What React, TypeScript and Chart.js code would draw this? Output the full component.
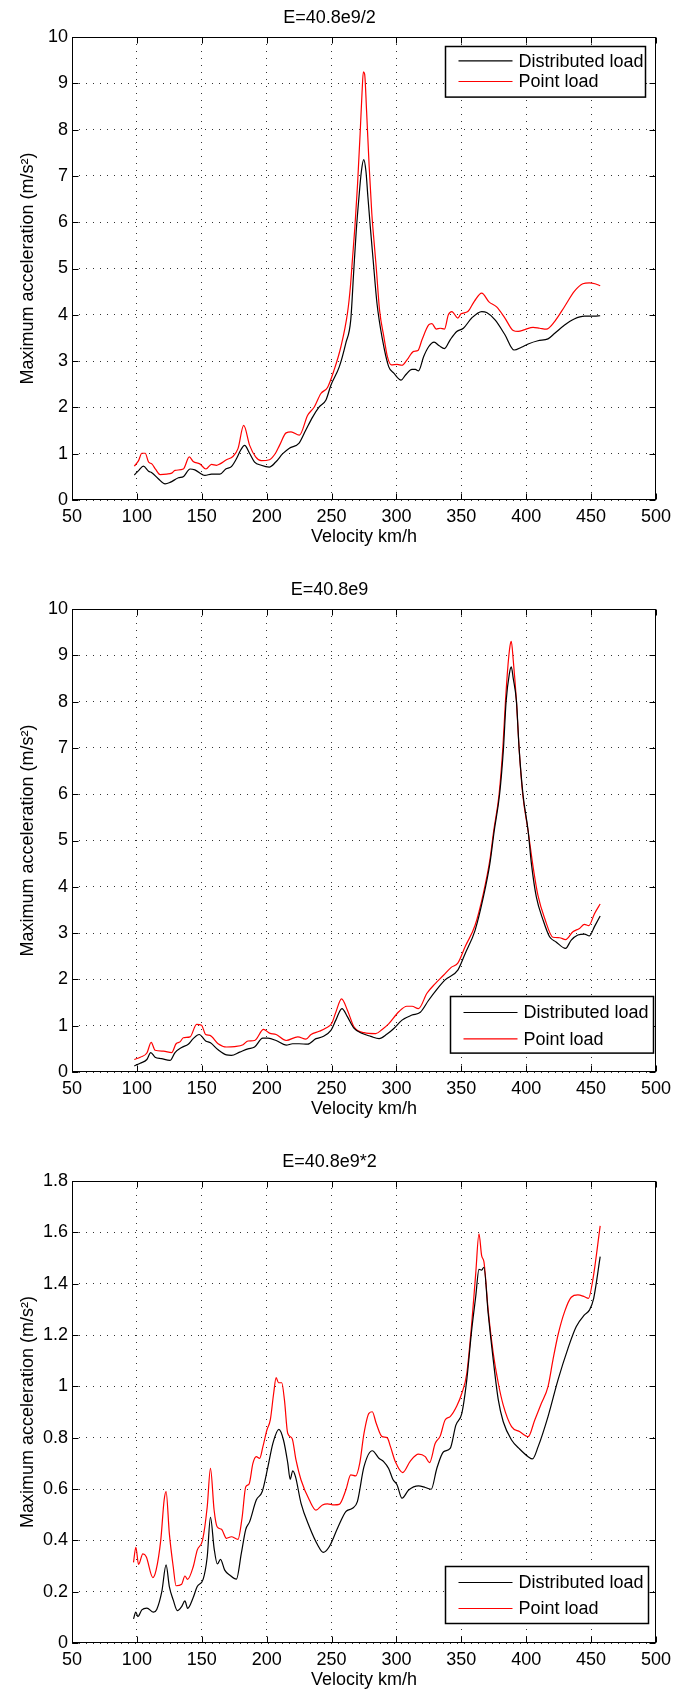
import React, { useEffect, useRef } from "react";
import { Chart, registerables } from "chart.js";

Chart.register(...registerables);

const FONT = "'Liberation Sans', Arial, Helvetica, sans-serif";
Chart.defaults.font.family = FONT;
Chart.defaults.font.size = 18;
Chart.defaults.color = "#000";

// ---------- data ----------
const seriesLabels = ["Distributed load", "Point load"];
const titles = ["E=40.8e9/2", "E=40.8e9", "E=40.8e9*2"];
const xTickValues = [50, 100, 150, 200, 250, 300, 350, 400, 450, 500];
const yTicksTall = [0, 1, 2, 3, 4, 5, 6, 7, 8, 9, 10];
const yTickLabelsShort = ["0", "0.2", "0.4", "0.6", "0.8", "1", "1.2", "1.4", "1.6", "1.8"];

// Plot 1: E=40.8e9/2
const p1DistV = [98, 101.5, 105, 109, 111.5, 116.5, 121.7, 125.5, 132, 136, 141, 144.7, 152.4, 157.5, 164, 168.5, 172.8, 176.7, 180, 183, 187, 190.7, 195.8, 202, 207, 212.4, 217.5, 225, 230, 235.4, 240.5, 245.7, 249.5, 256, 261, 264.8, 267, 269, 271, 273, 274.8, 276.5, 278, 280, 282, 285, 289, 294, 298, 303.6, 307, 312, 314.6, 317, 321, 324.8, 329, 333, 337, 341.4, 346.5, 351.6, 358, 365.7, 369.5, 376, 383.6, 390.7, 396.3, 401.5, 409, 416.8, 422, 429.6, 437, 445, 452.6, 457];
const p1DistA = [0.54, 0.64, 0.73, 0.62, 0.59, 0.46, 0.35, 0.38, 0.48, 0.51, 0.67, 0.65, 0.53, 0.56, 0.56, 0.67, 0.72, 0.89, 1.08, 1.18, 1.0, 0.82, 0.75, 0.71, 0.82, 1.0, 1.12, 1.23, 1.5, 1.79, 2.01, 2.16, 2.48, 2.88, 3.39, 3.89, 4.9, 5.8, 6.5, 7.1, 7.35, 7.1, 6.55, 5.85, 5.2, 4.25, 3.5, 2.88, 2.74, 2.59, 2.7, 2.82, 2.82, 2.79, 3.1, 3.31, 3.41, 3.33, 3.27, 3.46, 3.64, 3.71, 3.93, 4.07, 4.05, 3.89, 3.57, 3.24, 3.3, 3.37, 3.44, 3.48, 3.6, 3.78, 3.91, 3.97, 3.97, 3.98];
const p1PointV = [98, 101.3, 103.8, 106.4, 109, 111.5, 114.5, 117.9, 123, 126.8, 129.4, 135.8, 140.4, 143.4, 148.5, 153.2, 157.5, 161.3, 164, 169, 174, 177.9, 182.3, 186.9, 191.5, 195.8, 202.2, 206.8, 209.9, 215, 218.8, 225.2, 231.6, 236.7, 241.8, 246.9, 252, 257.2, 262.3, 264.5, 266.1, 268, 270, 272, 273.5, 274.5, 275.5, 277, 279, 281, 283, 284.5, 287, 290.3, 293, 296, 300.5, 304.3, 308, 313.3, 316.6, 319.7, 324.8, 327.3, 330.7, 333.7, 337, 340, 342.7, 347.3, 349.8, 355, 360, 365.7, 371.3, 377.2, 383.6, 390, 393.8, 398.9, 405.3, 410.4, 415.5, 422, 429.6, 437.2, 443.6, 448.7, 453, 457];
const p1PointA = [0.73, 0.85, 1.01, 1.01, 0.82, 0.78, 0.66, 0.55, 0.56, 0.58, 0.64, 0.67, 0.93, 0.83, 0.78, 0.67, 0.77, 0.75, 0.78, 0.87, 0.94, 1.11, 1.61, 1.18, 0.93, 0.85, 0.87, 1.01, 1.18, 1.45, 1.47, 1.4, 1.83, 2.01, 2.3, 2.43, 2.81, 3.31, 4.04, 4.6, 5.2, 5.9, 6.8, 7.9, 8.8, 9.25, 9.2, 8.4, 7.2, 6.2, 5.5, 5.0, 4.1, 3.53, 3.1, 2.92, 2.93, 2.91, 3.02, 3.21, 3.23, 3.46, 3.78, 3.81, 3.69, 3.71, 3.69, 4.0, 4.07, 3.93, 4.02, 4.07, 4.29, 4.47, 4.28, 4.17, 3.93, 3.66, 3.64, 3.68, 3.73, 3.71, 3.69, 3.86, 4.18, 4.51, 4.67, 4.69, 4.67, 4.63];

// Plot 2: E=40.8e9
const p2DistV = [98, 102.6, 107.7, 110.7, 114, 119, 125.5, 129.4, 134.5, 139.6, 143.4, 148, 153, 156.7, 162.6, 169, 172.8, 179.2, 185.6, 190.7, 197, 201, 207.3, 215, 220, 225, 231.6, 238, 243, 249.5, 253.3, 258, 262.3, 267.4, 273.8, 280.2, 286.6, 292.8, 298, 304.3, 312, 318.4, 324.8, 331, 337.5, 347.3, 353, 360.6, 367, 372, 375.4, 379.5, 382.5, 384.5, 387, 388.5, 390, 392.5, 394.5, 397.5, 401.5, 404, 407.8, 413, 418, 423, 430.3, 434.7, 439.8, 444.9, 448.7, 452.6, 457];
const p2DistA = [0.13, 0.19, 0.27, 0.42, 0.32, 0.29, 0.25, 0.42, 0.53, 0.6, 0.72, 0.81, 0.67, 0.63, 0.48, 0.37, 0.36, 0.43, 0.5, 0.54, 0.73, 0.73, 0.68, 0.58, 0.61, 0.61, 0.6, 0.72, 0.76, 0.9, 1.12, 1.37, 1.19, 0.94, 0.83, 0.77, 0.72, 0.82, 0.94, 1.12, 1.23, 1.29, 1.55, 1.78, 1.99, 2.2, 2.56, 3.06, 3.78, 4.5, 5.22, 6.0, 7.0, 8.0, 8.6, 8.75, 8.5, 8.0, 7.0, 6.0, 5.2, 4.5, 3.78, 3.28, 2.92, 2.81, 2.67, 2.85, 2.96, 2.98, 2.94, 3.14, 3.37];
const p2PointV = [98, 102.6, 107.7, 111, 114, 120.4, 126.8, 130.2, 133.2, 135.8, 141, 146, 149.8, 153, 156.3, 162.6, 169, 175.4, 181.8, 185.6, 190.7, 197.6, 202.2, 207.3, 215, 224, 230.3, 234.2, 240.5, 245.7, 250.3, 253.3, 257.7, 262.3, 267.4, 275, 284, 289, 294, 301.8, 308, 312, 317, 323.5, 329.9, 336.3, 342.2, 347.3, 353, 360.6, 367, 372, 374.9, 379.1, 382, 384, 386, 387.5, 388.5, 390, 392.5, 394.5, 397.3, 401.5, 405.3, 409, 414.2, 420.6, 425.7, 430.3, 436, 441, 444.9, 448.2, 452.6, 457];
const p2PointA = [0.27, 0.32, 0.41, 0.64, 0.47, 0.45, 0.42, 0.61, 0.65, 0.74, 0.76, 1.03, 1.01, 0.81, 0.79, 0.61, 0.54, 0.55, 0.59, 0.67, 0.68, 0.92, 0.84, 0.81, 0.68, 0.76, 0.71, 0.81, 0.88, 0.95, 1.06, 1.29, 1.58, 1.33, 0.97, 0.85, 0.83, 0.92, 1.04, 1.3, 1.42, 1.42, 1.37, 1.7, 1.91, 2.09, 2.26, 2.35, 2.71, 3.17, 3.86, 4.58, 5.2, 6.0, 7.0, 8.0, 8.8, 9.2, 9.3, 8.9, 8.0, 7.0, 6.0, 5.2, 4.43, 3.82, 3.32, 2.91, 2.9, 2.86, 3.03, 3.1, 3.19, 3.16, 3.42, 3.63];

// Plot 3: E=40.8e9*2
const p3DistV = [97.4, 99.2, 100.8, 103.8, 107.7, 112.8, 115.3, 119.2, 122.5, 125, 128, 131.2, 134.5, 137, 139.1, 143.4, 146.5, 151.1, 154.2, 156.7, 159.5, 162, 164.4, 167.7, 171.5, 176.7, 180.5, 183.9, 186.9, 192, 196.6, 201, 204.8, 209.4, 213, 216.3, 218.1, 220.1, 222.2, 226.5, 232.9, 239.3, 243.6, 248.2, 254.6, 261, 266.1, 269.9, 275, 281.4, 286.5, 290.3, 294, 297.2, 300.5, 304.3, 309.4, 317, 322.2, 326.8, 331.1, 336.3, 341.4, 345.8, 350.4, 354.2, 358, 361.1, 363.6, 365.7, 367.4, 370.7, 374.6, 378.5, 382.3, 388.7, 395.1, 401.5, 404.8, 409.2, 416.8, 424.5, 432.2, 438.5, 444.9, 448.7, 452, 457];
const p3DistA = [0.094, 0.12, 0.103, 0.129, 0.136, 0.12, 0.131, 0.2, 0.304, 0.22, 0.168, 0.126, 0.142, 0.164, 0.135, 0.177, 0.22, 0.249, 0.336, 0.49, 0.369, 0.308, 0.326, 0.284, 0.265, 0.249, 0.35, 0.443, 0.473, 0.557, 0.59, 0.687, 0.778, 0.832, 0.79, 0.7, 0.638, 0.671, 0.648, 0.544, 0.453, 0.382, 0.353, 0.375, 0.447, 0.512, 0.525, 0.551, 0.687, 0.749, 0.72, 0.706, 0.68, 0.638, 0.616, 0.564, 0.596, 0.612, 0.606, 0.599, 0.68, 0.745, 0.758, 0.849, 0.895, 1.025, 1.22, 1.35, 1.456, 1.453, 1.464, 1.284, 1.103, 0.947, 0.862, 0.791, 0.755, 0.726, 0.717, 0.765, 0.882, 1.025, 1.148, 1.232, 1.278, 1.297, 1.343, 1.505];
const p3PointV = [97.4, 99.2, 101.3, 104.6, 107.2, 112.3, 114.8, 118.4, 121, 122.5, 125, 128, 130.2, 134.5, 137, 139.1, 143.4, 146.5, 150.6, 154.2, 156.7, 159.5, 161.8, 165.2, 169, 172.8, 177.9, 181, 183.9, 186.4, 189.4, 192, 194.6, 197.1, 200.2, 202.8, 205.4, 207.3, 209.1, 211.6, 213.7, 216.2, 219.6, 222.6, 226.5, 232.9, 238, 243, 246.9, 252, 255.9, 261, 264.8, 268.6, 271.7, 275, 278.8, 281.4, 284.4, 289, 292.8, 295.4, 299.2, 304.8, 310.7, 317, 322.2, 325.5, 329.9, 333.7, 337.5, 341.4, 346.5, 350.4, 354.2, 358, 361.1, 363.6, 365.7, 367.4, 370.7, 374.6, 378.5, 382.3, 388.7, 395.1, 401.5, 406.6, 411.7, 416.8, 420.6, 424.5, 429.6, 434.7, 439.8, 444.9, 448, 451.3, 457];
const p3PointA = [0.314, 0.373, 0.306, 0.347, 0.336, 0.255, 0.284, 0.401, 0.557, 0.59, 0.427, 0.297, 0.223, 0.229, 0.261, 0.248, 0.297, 0.362, 0.401, 0.531, 0.68, 0.518, 0.453, 0.443, 0.408, 0.414, 0.404, 0.486, 0.609, 0.619, 0.7, 0.726, 0.719, 0.765, 0.83, 0.869, 0.973, 1.034, 1.014, 1.014, 0.947, 0.817, 0.797, 0.713, 0.635, 0.557, 0.518, 0.538, 0.542, 0.538, 0.54, 0.596, 0.655, 0.651, 0.7, 0.817, 0.895, 0.901, 0.856, 0.804, 0.8, 0.765, 0.706, 0.664, 0.709, 0.736, 0.726, 0.703, 0.778, 0.806, 0.869, 0.882, 0.923, 0.973, 1.05, 1.245, 1.44, 1.594, 1.508, 1.486, 1.297, 1.129, 1.012, 0.927, 0.843, 0.823, 0.804, 0.869, 0.934, 0.999, 1.103, 1.2, 1.291, 1.347, 1.356, 1.349, 1.343, 1.414, 1.625];

// ---------- plugins ----------
const framePlugin = {
  id: "matlabFrame",
  afterDraw(chart: any) {
    const { ctx, chartArea, scales } = chart;
    const l = Math.round(chartArea.left) + 0.5;
    const r = Math.round(chartArea.right) - 0.5;
    const t = Math.round(chartArea.top) + 0.5;
    const b = Math.round(chartArea.bottom) - 0.5;
    const tl = 6;
    ctx.save();
    ctx.strokeStyle = "#000";
    ctx.lineWidth = 1;
    ctx.beginPath();
    scales.x.ticks.forEach((tk: any) => {
      const px = Math.round(scales.x.getPixelForValue(tk.value)) + 0.5;
      ctx.moveTo(px, b);
      ctx.lineTo(px, b - tl);
      ctx.moveTo(px, t);
      ctx.lineTo(px, t + tl);
    });
    scales.y.ticks.forEach((tk: any) => {
      const py = Math.round(scales.y.getPixelForValue(tk.value)) + 0.5;
      ctx.moveTo(l, py);
      ctx.lineTo(l + tl, py);
      ctx.moveTo(r, py);
      ctx.lineTo(r - tl, py);
    });
    ctx.stroke();
    ctx.strokeRect(l, t, r - l, b - t);
    ctx.restore();
  },
};

const boxLegendPlugin = {
  id: "boxLegend",
  afterDraw(chart: any, _args: any, o: any) {
    const { ctx, chartArea } = chart;
    const x0 = Math.round(chartArea.right - o.right - o.width) + 0.5;
    const y0 =
      Math.round(o.top != null ? chartArea.top + o.top : chartArea.bottom - o.bottom - o.height) + 0.5;
    ctx.save();
    ctx.fillStyle = "#fff";
    ctx.fillRect(x0, y0, o.width, o.height);
    ctx.strokeStyle = "#000";
    ctx.lineWidth = 1.5;
    ctx.strokeRect(x0, y0, o.width, o.height);
    chart.data.datasets.forEach((ds: any, i: number) => {
      const y = y0 + o.row1 + i * o.gap;
      ctx.strokeStyle = ds.borderColor;
      ctx.lineWidth = 1.2;
      ctx.beginPath();
      ctx.moveTo(x0 + 13, y);
      ctx.lineTo(x0 + 67, y);
      ctx.stroke();
      ctx.fillStyle = "#000";
      ctx.font = "18px " + FONT;
      ctx.textAlign = "left";
      ctx.textBaseline = "middle";
      ctx.fillText(ds.label, x0 + 73, y + 1);
    });
    ctx.restore();
  },
};

const toPts = (xs: number[], ys: number[]) => xs.map((x, i) => ({ x, y: ys[i] }));

type PlotSpec = {
  top: number;
  height: number;
  padBottom: number;
  titlePadTop: number;
  title: string;
  distV: number[];
  distA: number[];
  pointV: number[];
  pointA: number[];
  yMax: number;
  yStep: number;
  yLabel: (v: number) => string;
  legend: any;
};

const GRID_COLOR = "rgba(0,0,0,0.8)";

function buildConfig(s: PlotSpec): any {
  const lineStyle = {
    borderWidth: 1.2,
    pointRadius: 0,
    cubicInterpolationMode: "monotone",
    fill: false,
  };
  return {
    type: "line",
    data: {
      datasets: [
        {
          label: seriesLabels[0],
          data: toPts(s.distV, s.distA),
          borderColor: "#000000",
          ...lineStyle,
        },
        {
          label: seriesLabels[1],
          data: toPts(s.pointV, s.pointA),
          borderColor: "#ff0000",
          ...lineStyle,
        },
      ],
    },
    options: {
      responsive: false,
      animation: false,
      events: [],
      layout: { padding: { left: 0, right: 18, top: 0, bottom: s.padBottom } },
      plugins: {
        legend: { display: false },
        tooltip: { enabled: false },
        title: {
          display: true,
          text: s.title,
          color: "#000",
          font: { size: 18, family: FONT, weight: "normal" },
          padding: { top: s.titlePadTop, bottom: 8.4 },
        },
        boxLegend: s.legend,
      },
      scales: {
        x: {
          type: "linear",
          min: xTickValues[0],
          max: xTickValues[xTickValues.length - 1],
          afterBuildTicks: (sc: any) => {
            sc.ticks = xTickValues.map((v) => ({ value: v }));
          },
          ticks: {
            autoSkip: false,
            maxRotation: 0,
            padding: 6,
            color: "#000",
            font: { size: 18, family: FONT },
            callback: (v: number) => String(v),
          },
          grid: { color: GRID_COLOR, lineWidth: 1, drawTicks: false },
          border: { display: false, dash: [1, 6] },
          title: {
            display: true,
            text: "Velocity km/h",
            color: "#000",
            font: { size: 18, family: FONT },
            padding: { top: 0, bottom: 2.2 },
          },
          afterFit: (sc: any) => {
            sc.height = 50;
          },
        },
        y: {
          type: "linear",
          min: 0,
          max: s.yMax,
          ticks: {
            stepSize: s.yStep,
            autoSkip: false,
            padding: 4,
            color: "#000",
            font: { size: 18, family: FONT },
            callback: (v: number) => s.yLabel(v),
          },
          grid: { color: GRID_COLOR, lineWidth: 1, drawTicks: false },
          border: { display: false, dash: [1, 6] },
          title: {
            display: true,
            text: "Maximum acceleration (m/s²)",
            color: "#000",
            font: { size: 18, family: FONT },
            padding: { top: 17.5, bottom: 0 },
          },
          afterFit: (sc: any) => {
            sc.width = 72;
          },
        },
      },
    },
    plugins: [framePlugin, boxLegendPlugin],
  };
}

const tallLabel = (v: number) => {
  const idx = yTicksTall.indexOf(Math.round(v));
  return idx >= 0 ? String(yTicksTall[idx]) : "";
};
const shortLabel = (v: number) => {
  const idx = Math.round(v / 0.2);
  return yTickLabelsShort[idx] ?? "";
};

const plots: PlotSpec[] = [
  {
    top: 0,
    height: 572,
    padBottom: 22,
    titlePadTop: 7,
    title: titles[0],
    distV: p1DistV,
    distA: p1DistA,
    pointV: p1PointV,
    pointA: p1PointA,
    yMax: 10,
    yStep: 1,
    yLabel: tallLabel,
    legend: { right: 10.8, top: 9.4, width: 200, height: 50.6, row1: 14.3, gap: 20.7 },
  },
  {
    top: 572,
    height: 572,
    padBottom: 22,
    titlePadTop: 7,
    title: titles[1],
    distV: p2DistV,
    distA: p2DistA,
    pointV: p2PointV,
    pointA: p2PointA,
    yMax: 10,
    yStep: 1,
    yLabel: tallLabel,
    legend: { right: 3, bottom: 19, width: 203, height: 56.6, row1: 16, gap: 26.3 },
  },
  {
    top: 1144,
    height: 549,
    padBottom: 0,
    titlePadTop: 7,
    title: titles[2],
    distV: p3DistV,
    distA: p3DistA,
    pointV: p3PointV,
    pointA: p3PointA,
    yMax: 1.8,
    yStep: 0.2,
    yLabel: shortLabel,
    legend: { right: 8.2, bottom: 20, width: 203, height: 57, row1: 16, gap: 26 },
  },
];

function Plot({ spec }: { spec: PlotSpec }) {
  const ref = useRef<HTMLCanvasElement | null>(null);
  useEffect(() => {
    if (!ref.current) return;
    const chart = new Chart(ref.current, buildConfig(spec));
    return () => chart.destroy();
  }, [spec]);
  return (
    <canvas
      ref={ref}
      width={677}
      height={spec.height}
      style={{ position: "absolute", left: 0, top: spec.top, width: 677, height: spec.height }}
    />
  );
}

export default function App() {
  return (
    <div
      style={{
        position: "absolute",
        left: 0,
        top: 0,
        width: 677,
        height: 1693,
        background: "#fff",
        overflow: "hidden",
      }}
    >
      {plots.map((p, i) => (
        <Plot key={i} spec={p} />
      ))}
    </div>
  );
}
